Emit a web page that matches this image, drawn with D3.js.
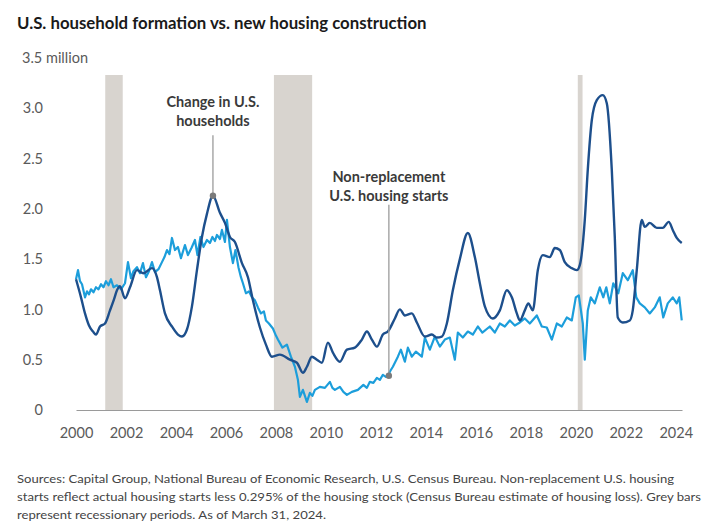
<!DOCTYPE html>
<html>
<head>
<meta charset="utf-8">
<script src="https://cdn.jsdelivr.net/npm/d3@7"></script>
<style>
  html, body { margin: 0; padding: 0; background: #fff; }
  svg { display: block; font-family: Lato, "Open Sans", sans-serif; }
</style>
</head>
<body>
<svg id="chart" width="709" height="521"></svg>
<script>
// ---------- DATA ----------
const yearTicks = [2000, 2002, 2004, 2006, 2008, 2010, 2012, 2014, 2016, 2018, 2020, 2022, 2024];
const valueTicks = [0, 0.5, 1.0, 1.5, 2.0, 2.5, 3.0];
const topTickLabel = "3.5 million";

// recession periods (decimal years)
const recessionStart = [2001.17, 2007.92, 2020.08];
const recessionEnd   = [2001.87, 2009.45, 2020.27];

// Change in U.S. households (millions), decimal-year dates
const householdDates = [2000.00,2000.20,2000.36,2000.52,2000.68,2000.80,2000.96,2001.16,2001.36,2001.52,2001.64,2001.76,2001.96,2002.16,2002.44,2002.70,2003.04,2003.24,2003.36,2003.56,2003.84,2004.08,2004.24,2004.44,2004.64,2004.84,2005.04,2005.24,2005.48,2005.76,2005.96,2006.16,2006.36,2006.64,2006.88,2007.08,2007.36,2007.60,2007.84,2008.16,2008.56,2008.84,2009.08,2009.24,2009.44,2009.64,2009.84,2010.08,2010.28,2010.56,2010.84,2011.16,2011.44,2011.64,2011.84,2012.04,2012.28,2012.48,2012.76,2012.96,2013.16,2013.44,2013.64,2013.96,2014.24,2014.44,2014.64,2014.84,2015.08,2015.36,2015.68,2015.96,2016.16,2016.36,2016.68,2016.96,2017.24,2017.44,2017.64,2017.76,2017.96,2018.10,2018.28,2018.48,2018.68,2018.96,2019.16,2019.36,2019.56,2019.84,2020.04,2020.16,2020.36,2020.48,2020.64,2020.84,2021.08,2021.24,2021.44,2021.56,2021.68,2021.88,2022.16,2022.28,2022.44,2022.64,2022.76,2022.96,2023.24,2023.48,2023.72,2023.88,2024.04,2024.24];
const householdValues = [1.30,1.12,0.96,0.84,0.78,0.75,0.83,0.86,0.99,1.10,1.19,1.23,1.11,1.22,1.39,1.36,1.41,1.32,1.19,0.96,0.83,0.75,0.73,0.80,1.03,1.39,1.72,1.95,2.13,1.96,1.86,1.72,1.67,1.46,1.32,1.09,0.82,0.65,0.53,0.55,0.50,0.47,0.37,0.43,0.53,0.50,0.47,0.67,0.57,0.48,0.60,0.62,0.70,0.78,0.70,0.63,0.75,0.78,0.91,1.00,0.94,0.96,0.87,0.73,0.75,0.72,0.73,0.86,1.19,1.50,1.76,1.52,1.26,1.03,0.91,0.99,1.19,1.12,0.96,0.89,0.99,1.06,0.99,1.39,1.54,1.52,1.61,1.59,1.47,1.41,1.39,1.44,1.89,2.39,2.88,3.08,3.13,3.05,2.39,1.72,0.92,0.87,0.89,0.99,1.39,1.89,1.82,1.86,1.81,1.81,1.87,1.79,1.71,1.66];

// Non-replacement U.S. housing starts (millions), decimal-year dates
const startsDates = [2000.00,2000.08,2000.16,2000.24,2000.36,2000.44,2000.52,2000.60,2000.70,2000.80,2000.90,2001.00,2001.10,2001.20,2001.30,2001.40,2001.50,2001.64,2001.80,2001.96,2002.08,2002.20,2002.30,2002.44,2002.56,2002.68,2002.80,2002.92,2003.04,2003.16,2003.30,2003.44,2003.54,2003.64,2003.74,2003.84,2003.96,2004.08,2004.20,2004.36,2004.48,2004.62,2004.76,2004.86,2004.98,2005.10,2005.24,2005.36,2005.46,2005.56,2005.64,2005.76,2005.84,2005.96,2006.04,2006.16,2006.28,2006.38,2006.50,2006.60,2006.68,2006.80,2006.92,2007.04,2007.16,2007.28,2007.40,2007.52,2007.60,2007.72,2007.88,2008.00,2008.08,2008.26,2008.44,2008.60,2008.76,2008.88,2008.96,2009.08,2009.24,2009.36,2009.46,2009.56,2009.76,2009.96,2010.16,2010.26,2010.36,2010.56,2010.70,2010.84,2011.04,2011.28,2011.50,2011.64,2011.76,2011.90,2012.04,2012.16,2012.28,2012.40,2012.48,2012.58,2012.68,2012.88,2013.00,2013.16,2013.28,2013.44,2013.60,2013.84,2013.96,2014.16,2014.36,2014.56,2014.76,2014.96,2015.16,2015.28,2015.48,2015.68,2015.88,2016.08,2016.26,2016.56,2016.76,2016.96,2017.16,2017.36,2017.56,2017.76,2017.96,2018.16,2018.44,2018.64,2018.84,2019.04,2019.24,2019.44,2019.64,2019.84,2020.00,2020.12,2020.28,2020.36,2020.48,2020.60,2020.76,2020.96,2021.10,2021.22,2021.36,2021.50,2021.70,2021.88,2022.08,2022.28,2022.42,2022.56,2022.76,2022.96,2023.16,2023.36,2023.50,2023.68,2023.88,2024.04,2024.14,2024.24];
const startsValues = [1.30,1.39,1.28,1.25,1.12,1.18,1.15,1.20,1.17,1.22,1.20,1.25,1.22,1.28,1.24,1.30,1.22,1.24,1.20,1.26,1.47,1.31,1.38,1.42,1.36,1.46,1.32,1.38,1.47,1.37,1.40,1.47,1.52,1.59,1.55,1.71,1.59,1.62,1.51,1.64,1.54,1.61,1.69,1.54,1.72,1.62,1.69,1.66,1.72,1.68,1.74,1.70,1.79,1.67,1.89,1.62,1.46,1.59,1.42,1.32,1.26,1.16,1.18,1.12,1.09,1.02,0.96,0.98,0.89,0.86,0.81,0.74,0.70,0.62,0.65,0.53,0.43,0.30,0.13,0.20,0.08,0.17,0.14,0.20,0.23,0.22,0.28,0.22,0.20,0.23,0.18,0.15,0.18,0.20,0.25,0.22,0.28,0.27,0.32,0.30,0.35,0.33,0.34,0.39,0.43,0.53,0.60,0.48,0.62,0.53,0.58,0.53,0.72,0.60,0.73,0.63,0.70,0.72,0.50,0.77,0.72,0.78,0.75,0.83,0.77,0.83,0.77,0.86,0.83,0.89,0.84,0.87,0.91,0.86,0.94,0.83,0.82,0.70,0.86,0.83,0.92,0.89,1.12,1.14,0.86,0.50,0.99,1.12,1.06,1.22,1.12,1.22,1.06,1.26,1.16,1.36,1.29,1.39,1.12,1.06,1.02,0.96,1.02,1.12,0.92,1.06,1.12,1.06,1.12,0.89];

// annotations
const annoHouseholdDate = 2005.48, annoHouseholdValue = 2.13, annoHouseholdTop = 2.73;
const annoStartsDate = 2012.52, annoStartsValue = 0.34, annoStartsTop = 2.04;

const titleText = "U.S. household formation vs. new housing construction";
const sourceLines = [
  "Sources: Capital Group, National Bureau of Economic Research, U.S. Census Bureau. Non-replacement U.S. housing",
  "starts reflect actual housing starts less 0.295% of the housing stock (Census Bureau estimate of housing loss). Grey bars",
  "represent recessionary periods. As of March 31, 2024."
];
const sourceWidths = [657, 684, 309];

// ---------- CHART ----------
const svg = d3.select("#chart");
const x = d3.scaleLinear().domain([2000, 2024.25]).range([76, 682]);
const y = d3.scaleLinear().domain([0, 3.5]).range([410, 57.9]);

const darkBlue = "#1d4f8c";
const lightBlue = "#1c9edb";
const grey = "#5a5a5a";

// title
svg.append("text").attr("x", 17).attr("y", 28.5)
  .attr("font-size", 16.8).attr("font-weight", 700).attr("fill", "#1a1a1a")
  .text(titleText);

// recession bars
svg.append("g").selectAll("rect")
  .data(recessionStart.map((s, i) => [s, recessionEnd[i]]))
  .join("rect")
  .attr("x", d => x(d[0]))
  .attr("width", d => x(d[1]) - x(d[0]))
  .attr("y", y(3.33))
  .attr("height", y(0) - y(3.33))
  .attr("fill", "#d8d4cf");

// x axis
const xAxis = d3.axisBottom(x).tickValues(yearTicks).tickFormat(d3.format("d")).tickSize(0).tickSizeOuter(0).tickPadding(18);
const gx = svg.append("g").attr("transform", `translate(0,${y(0)})`).call(xAxis);
gx.select(".domain").attr("stroke", "#9a9a9a").attr("stroke-width", 1.2);
gx.selectAll("text").attr("font-size", 14.5).attr("fill", grey).attr("font-family", "Lato, sans-serif");

// y axis
const yAxis = d3.axisLeft(y).tickValues(valueTicks).tickFormat(d => d === 0 ? "0" : d.toFixed(1)).tickSize(0).tickPadding(0);
const gy = svg.append("g").attr("transform", "translate(43,0)").call(yAxis);
gy.select(".domain").remove();
gy.selectAll("text").attr("font-size", 14.5).attr("fill", grey).attr("font-family", "Lato, sans-serif");
svg.append("text").attr("x", 22).attr("y", y(3.5)).attr("dy", "0.32em")
  .attr("font-size", 14.5).attr("fill", grey).text(topTickLabel);

// lines
const lineGen = d3.line().x(d => x(d[0])).y(d => y(d[1]));

svg.append("path")
  .datum(startsDates.map((t, i) => [t, startsValues[i]]))
  .attr("d", lineGen).attr("fill", "none")
  .attr("stroke", lightBlue).attr("stroke-width", 2.2).attr("stroke-linejoin", "round");

svg.append("path")
  .datum(householdDates.map((t, i) => [t, householdValues[i]]))
  .attr("d", lineGen.curve(d3.curveMonotoneX)).attr("fill", "none")
  .attr("stroke", darkBlue).attr("stroke-width", 2.4).attr("stroke-linejoin", "round");

// annotations
function annotate(date, value, top, lines, textY) {
  svg.append("line").attr("x1", x(date)).attr("x2", x(date))
    .attr("y1", y(top)).attr("y2", y(value))
    .attr("stroke", "#9b9b9b").attr("stroke-width", 1.3);
  svg.append("circle").attr("cx", x(date)).attr("cy", y(value)).attr("r", 3.2).attr("fill", "#7b7b7b");
  const t = svg.append("text").attr("text-anchor", "middle")
    .attr("font-size", 14.5).attr("font-weight", 700).attr("fill", "#3a3a3a");
  lines.forEach((s, i) => t.append("tspan").attr("x", x(date)).attr("y", textY + i * 19).text(s));
}
annotate(annoHouseholdDate, annoHouseholdValue, annoHouseholdTop, ["Change in U.S.", "households"], 107);
annotate(annoStartsDate, annoStartsValue, annoStartsTop, ["Non-replacement", "U.S. housing starts"], 182);

// source note
const src = svg.append("text").attr("font-size", 12.2).attr("fill", "#444");
sourceLines.forEach((s, i) => src.append("tspan").attr("x", 17).attr("y", 483 + i * 18)
  .attr("textLength", sourceWidths[i]).attr("lengthAdjust", "spacingAndGlyphs").text(s));
</script>
</body>
</html>
